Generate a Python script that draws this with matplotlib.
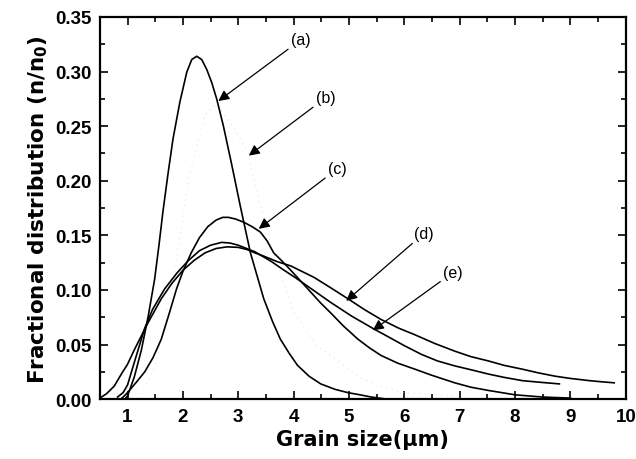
import matplotlib
matplotlib.use("Agg")
import matplotlib.pyplot as plt
from matplotlib.ticker import MultipleLocator, FormatStrFormatter

plt.rcParams['font.family'] = ['Liberation Sans', 'DejaVu Sans']
plt.rcParams['mathtext.fontset'] = 'custom'
plt.rcParams['mathtext.bf'] = 'DejaVu Sans:bold'
plt.rcParams['mathtext.rm'] = 'DejaVu Sans:bold'
plt.rcParams['mathtext.default'] = 'bf'

# curve (a)
xa = [0.95, 1.0, 1.12, 1.25, 1.37, 1.49, 1.57, 1.64, 1.73, 1.82, 1.945, 2.07, 2.16,
      2.25, 2.34, 2.43, 2.52, 2.61, 2.73, 2.885, 3.04, 3.22, 3.46, 3.62, 3.76, 3.92,
      4.07, 4.28, 4.49, 4.75, 4.98, 5.2, 5.4, 5.7]
ya = [0.0, 0.003, 0.020, 0.045, 0.075, 0.110, 0.142, 0.172, 0.206, 0.238, 0.272,
      0.2995, 0.311, 0.314, 0.311, 0.302, 0.29, 0.275, 0.2505, 0.214, 0.176, 0.134,
      0.092, 0.071, 0.055, 0.042, 0.031, 0.021, 0.014, 0.009, 0.006, 0.004, 0.002, 0.0]

# curve (b) (barely visible in the original scan)
xb = [1.2, 1.5, 1.8, 2.1, 2.4, 2.6, 2.9, 3.18, 3.28, 3.6, 4.0, 4.4, 4.8, 5.2, 5.5,
      6.0, 7.0]
yb = [0.0, 0.03, 0.10, 0.20, 0.26, 0.27, 0.25, 0.225, 0.202, 0.14, 0.08, 0.05,
      0.035, 0.02, 0.012, 0.006, 0.003]

# curve (c)
xc = [0.9, 1.0, 1.15, 1.31, 1.46, 1.61, 1.75, 1.885, 2.0, 2.15, 2.3, 2.45, 2.6, 2.72,
      2.82, 2.95, 3.1, 3.25, 3.4, 3.52, 3.64, 3.8, 3.95, 4.13, 4.31, 4.49, 4.67, 4.9,
      5.16, 5.37, 5.58, 5.88, 6.19, 6.49, 6.91, 7.2, 7.52, 8.0, 8.49, 9.0]
yc = [0.001, 0.006, 0.015, 0.025, 0.038, 0.055, 0.078, 0.101, 0.117, 0.134, 0.148,
      0.158, 0.164, 0.1665, 0.1665, 0.165, 0.162, 0.158, 0.153, 0.145, 0.134, 0.126,
      0.118, 0.108, 0.098, 0.088, 0.079, 0.067, 0.055, 0.047, 0.040, 0.033, 0.0275,
      0.022, 0.015, 0.011, 0.008, 0.004, 0.002, 0.001]

# curve (d)
xd = [0.5, 0.62, 0.76, 0.9, 1.0, 1.13, 1.25, 1.37, 1.49, 1.61, 1.8, 2.0, 2.2, 2.4,
      2.6, 2.8, 3.0, 3.16, 3.3, 3.46, 3.7, 3.95, 4.15, 4.37, 4.67, 4.98, 5.28, 5.58,
      5.9, 6.19, 6.55, 6.91, 7.2, 7.52, 7.8, 8.13, 8.43, 8.73, 9.0, 9.34, 9.55, 9.79]
yd = [0.001, 0.005, 0.012, 0.024, 0.032, 0.046, 0.058, 0.070, 0.081, 0.092, 0.106,
      0.118, 0.127, 0.134, 0.138, 0.1395, 0.139, 0.137, 0.134, 0.131, 0.126, 0.122,
      0.117, 0.1115, 0.102, 0.092, 0.082, 0.073, 0.065, 0.059, 0.051, 0.044, 0.039,
      0.035, 0.031, 0.0275, 0.024, 0.021, 0.019, 0.017, 0.016, 0.015]

# curve (e)
xe = [0.82, 0.92, 1.0, 1.13, 1.31, 1.45, 1.67, 1.9, 2.1, 2.3, 2.5, 2.7, 2.85, 3.0,
      3.15, 3.3, 3.6, 3.8, 4.04, 4.35, 4.67, 5.05, 5.46, 5.75, 6.0, 6.31, 6.6, 6.91,
      7.2, 7.52, 7.8, 8.13, 8.45, 8.8]
ye = [0.002, 0.006, 0.013, 0.035, 0.065, 0.082, 0.101, 0.116, 0.127, 0.136, 0.141,
      0.1436, 0.143, 0.141, 0.138, 0.135, 0.126, 0.119, 0.111, 0.1, 0.0886, 0.076,
      0.064, 0.056, 0.049, 0.041, 0.035, 0.0305, 0.027, 0.023, 0.020, 0.017, 0.0155,
      0.014]

labels = ['(a)', '(b)', '(c)', '(d)', '(e)']
label_pos = [(3.95, 0.329), (4.40, 0.276), (4.62, 0.211), (6.18, 0.152), (6.70, 0.116)]
arrow_tips = [(2.64, 0.273), (3.19, 0.223), (3.37, 0.156), (4.95, 0.090), (5.43, 0.063)]

fig = plt.figure(figsize=(6.36, 4.60), dpi=100)
ax = fig.add_axes([0.157, 0.130, 0.827, 0.831])

ax.plot(xb, yb, color='#e4e4e4', lw=0.8, ls=(0, (1, 4)))
for xs, ys in [(xa, ya), (xc, yc), (xd, yd), (xe, ye)]:
    ax.plot(xs, ys, color='black', lw=1.2)

for lab, (tx, ty), (hx, hy) in zip(labels, label_pos, arrow_tips):
    ax.annotate(lab, xy=(hx, hy), xytext=(tx, ty), ha='left', va='center',
                fontsize=11.5, fontweight='normal',
                arrowprops=dict(arrowstyle='-|>', color='black', lw=0.9,
                                mutation_scale=16, shrinkA=0, shrinkB=0))

ax.set_xlim(0.5, 10)
ax.set_ylim(0, 0.35)
ax.xaxis.set_major_locator(MultipleLocator(1))
ax.xaxis.set_minor_locator(MultipleLocator(0.5))
ax.yaxis.set_major_locator(MultipleLocator(0.05))
ax.yaxis.set_minor_locator(MultipleLocator(0.025))
ax.yaxis.set_major_formatter(FormatStrFormatter('%.2f'))
ax.tick_params(which='both', direction='in', top=True, right=True, width=1.2)
ax.tick_params(which='major', length=6, labelsize=13.5, pad=6)
ax.tick_params(which='minor', length=3.5)
for lbl in ax.get_xticklabels() + ax.get_yticklabels():
    lbl.set_fontweight('bold')
for sp in ax.spines.values():
    sp.set_linewidth(1.6)

ax.set_xlabel('Grain size(\u03bcm)', fontsize=15, fontweight='bold',
              family='DejaVu Sans', labelpad=3)
ax.set_ylabel('Fractional distribution (n/n$_0$)', fontsize=15.5, fontweight='bold',
              family='DejaVu Sans', labelpad=4)

fig.savefig('out.png', dpi=100)
